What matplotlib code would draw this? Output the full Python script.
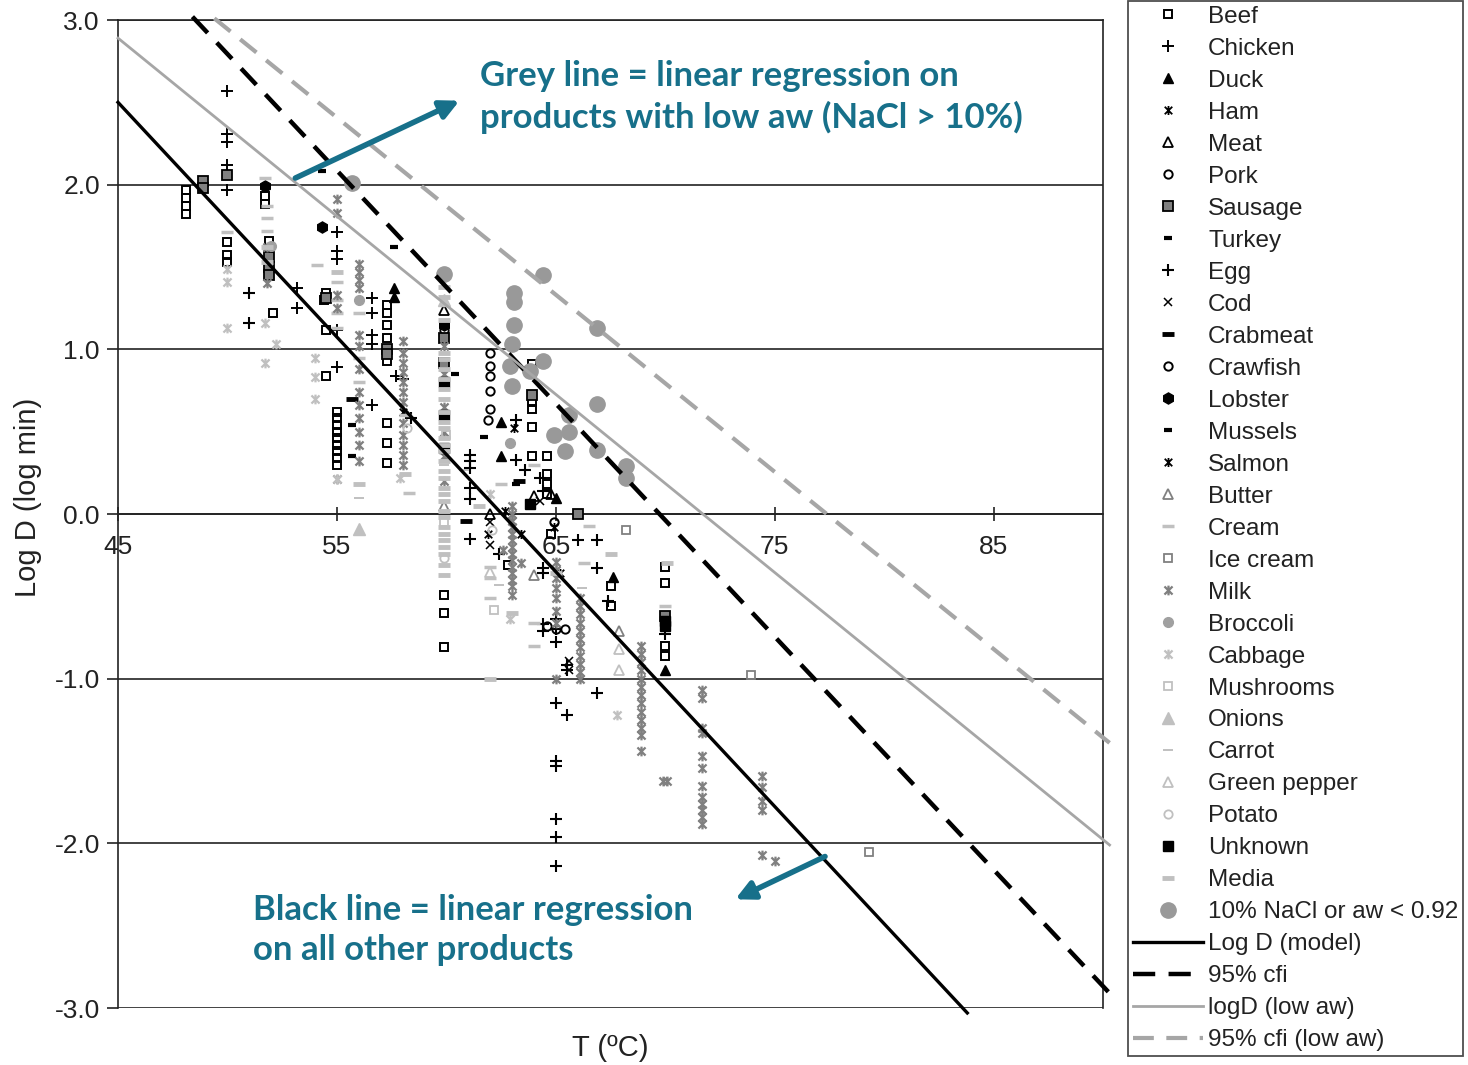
import matplotlib
matplotlib.use('Agg')
import matplotlib.pyplot as plt
from matplotlib.path import Path

plt.rcParams['font.family'] = ['Liberation Sans', 'DejaVu Sans']

# %% data: (T in degC, log D in log min)
beef = [(48.1, 1.97), (48.1, 1.92), (48.1, 1.87), (48.1, 1.82),
        (50.0, 1.65), (50.0, 1.57), (50.0, 1.53),
        (51.7, 1.93), (51.7, 1.88), (51.9, 1.66), (52.1, 1.22),
        (54.5, 1.34), (54.4, 1.30), (54.5, 1.12), (54.5, 0.84),
        (55.0, 0.62), (55.0, 0.58), (55.0, 0.54), (55.0, 0.50), (55.0, 0.46),
        (55.0, 0.42), (55.0, 0.38), (55.0, 0.34), (55.0, 0.30),
        (57.3, 1.27), (57.3, 1.22), (57.3, 1.15), (57.3, 1.07), (57.3, 0.93),
        (57.3, 0.55), (57.3, 0.43), (57.3, 0.31),
        (59.9, -0.49), (59.9, -0.60), (59.9, -0.81), (62.8, -0.31),
        (63.9, 0.91), (63.9, 0.68), (63.9, 0.64), (63.9, 0.53), (63.9, 0.35),
        (64.6, 0.35), (64.6, 0.24), (64.6, 0.18), (64.6, 0.12), (64.8, -0.12),
        (67.5, -0.44), (67.5, -0.56), (70.0, -0.32), (70.0, -0.42),
        (70.0, -0.80), (70.0, -0.86)]
chicken = [(50.0, 2.57), (50.0, 2.31), (50.0, 2.26), (50.0, 2.12), (50.0, 1.97),
           (53.2, 1.37), (53.2, 1.25), (55.0, 1.71), (55.0, 1.60), (55.0, 1.55),
           (55.0, 1.12), (55.0, 0.89), (56.6, 1.31), (56.6, 1.22), (56.6, 1.09),
           (56.6, 1.03), (56.6, 0.66), (57.7, 0.84)]
duck = [(57.6, 1.37), (57.6, 1.32), (62.5, 0.56), (62.5, 0.35), (65.0, 0.10),
        (67.6, -0.38), (70.0, -0.95)]
ham = [(58.0, 0.62), (63.1, 0.52), (64.9, -0.08), (61.9, -0.12)]
meat = [(59.9, 1.24), (62.0, 0.0), (64.0, 0.11), (64.8, 0.12)]
pork = [(62.0, 0.98), (62.0, 0.90), (62.0, 0.84), (62.0, 0.75), (62.0, 0.64),
        (65.0, -0.70), (65.4, -0.70), (59.9, 1.12)]
sausage = [(48.9, 2.02), (48.9, 1.98), (50.0, 2.06), (51.9, 1.56), (51.9, 1.50),
           (51.9, 1.45), (54.5, 1.31), (57.3, 1.00), (57.3, 0.97), (59.9, 1.07),
           (59.9, 0.92), (66.0, 0.0), (70.0, -0.62), (63.9, 0.72)]
turkey = [(54.3, 2.08), (57.6, 1.62), (61.7, 0.47), (63.2, 0.18)]
egg = [(51.0, 1.34), (51.0, 1.16), (58.0, 0.82), (58.4, 0.58),
       (61.1, 0.36), (61.1, 0.32), (61.1, 0.28), (61.1, 0.16), (61.1, 0.09),
       (61.1, -0.15), (62.4, -0.24), (63.2, 0.57), (63.2, 0.33), (63.6, 0.27),
       (64.3, 0.22), (64.4, 0.14), (64.4, -0.33), (64.4, -0.36), (64.4, -0.67),
       (64.4, -0.71), (65.0, -0.64), (65.0, -0.70), (65.0, -0.78), (65.5, -0.92),
       (65.5, -0.95), (65.0, -1.15), (65.5, -1.22), (65.0, -1.50), (65.0, -1.53),
       (65.0, -1.85), (65.0, -1.96), (65.0, -2.14), (66.9, -1.09), (66.0, -0.16),
       (66.9, -0.16), (66.9, -0.33), (67.4, -0.53), (70.0, -0.73)]
cod = [(62.0, -0.05), (62.0, -0.19), (65.6, -0.89), (65.6, -0.95), (64.3, 0.08)]
crabmeat = [(60.9, -0.04), (63.3, 0.20), (55.7, 0.70)]
crawfish = [(64.6, -0.68), (61.9, 0.57), (64.9, -0.05)]
lobster = [(51.7, 1.99), (54.3, 1.74), (59.9, 1.15)]
mussels = [(55.7, 0.54), (55.7, 0.35), (60.4, 0.85)]
salmon = [(62.7, 0.02), (65.2, -0.36), (63.4, -0.12)]
butter = [(64.0, -0.37), (67.9, -0.71), (59.9, 0.05)]
cream = [(50.0, 1.71), (51.7, 2.04), (51.8, 1.87), (51.8, 1.80), (51.8, 1.72),
         (54.1, 1.51), (55.0, 1.41), (55.0, 1.30), (55.0, 1.22), (55.0, 1.13),
         (56.0, 1.22), (56.0, 0.95), (56.0, 0.80), (58.1, 0.60), (58.3, 0.13),
         (62.0, -0.32), (62.0, -0.39), (62.0, -0.51), (64.0, -0.66), (64.0, -0.80),
         (70.0, -0.56), (66.3, -0.30), (66.5, -0.07), (64.0, 0.30), (62.5, 0.18)]
ice_cream = [(68.2, -0.10), (73.9, -0.98), (79.3, -2.05)]
milk = [(51.8, 1.62), (51.8, 1.40),
        (55.0, 1.91), (55.0, 1.83), (55.0, 1.33), (55.0, 1.25), (55.0, 0.21),
        (56.0, 1.52), (56.0, 1.47), (56.0, 1.42), (56.0, 1.37), (56.0, 1.09),
        (56.0, 1.02), (56.0, 0.88), (56.0, 0.74), (56.0, 0.66), (56.0, 0.58),
        (56.0, 0.50), (56.0, 0.42), (56.0, 0.32),
        (58.0, 1.05), (58.0, 0.98), (58.0, 0.92), (58.0, 0.86), (58.0, 0.80),
        (58.0, 0.74), (58.0, 0.68), (58.0, 0.55), (58.0, 0.48), (58.0, 0.42),
        (58.0, 0.36), (58.0, 0.30),
        (59.9, 1.02), (59.9, 0.85), (59.9, 0.65), (59.9, 0.50), (59.9, 0.35), (59.9, 0.20),
        (63.0, 0.05), (63.0, 0.00), (63.0, -0.04), (63.0, -0.08), (63.0, -0.12),
        (63.0, -0.16), (63.0, -0.20), (63.0, -0.24), (63.0, -0.28), (63.0, -0.32),
        (63.0, -0.36), (63.0, -0.40), (63.0, -0.44), (63.0, -0.49), (62.6, -0.22),
        (63.4, -0.30),
        (65.0, -0.29), (65.0, -0.34), (65.0, -0.39), (65.0, -0.45), (65.0, -0.51),
        (65.0, -0.59), (65.0, -0.66), (65.0, -1.00),
        (66.1, -0.51), (66.1, -0.56), (66.1, -0.61), (66.1, -0.66), (66.1, -0.71),
        (66.1, -0.76), (66.1, -0.81), (66.1, -0.86), (66.1, -0.91), (66.1, -0.96),
        (66.1, -1.00),
        (68.9, -0.80), (68.9, -0.85), (68.9, -0.90), (68.9, -0.95), (68.9, -1.00),
        (68.9, -1.05), (68.9, -1.10), (68.9, -1.15), (68.9, -1.20), (68.9, -1.25),
        (68.9, -1.30), (68.9, -1.34), (68.9, -1.44), (69.9, -1.62), (70.1, -1.62),
        (71.7, -1.07), (71.7, -1.12), (71.7, -1.30), (71.7, -1.33), (71.7, -1.47),
        (71.7, -1.54), (71.7, -1.65), (71.7, -1.72), (71.7, -1.76), (71.7, -1.80),
        (71.7, -1.84), (71.7, -1.88),
        (74.4, -1.59), (74.4, -1.66), (74.4, -1.74), (74.4, -1.80), (74.4, -2.07),
        (75.0, -2.11)]
broccoli = [(52.0, 1.63), (56.0, 1.30), (62.9, 0.43)]
cabbage = [(50.0, 1.49), (50.0, 1.41), (50.0, 1.13), (51.7, 1.16), (51.7, 0.92),
           (52.2, 1.03), (54.0, 0.95), (54.0, 0.83), (54.0, 0.70), (55.0, 0.21),
           (62.0, 0.12), (62.9, -0.64), (67.8, -1.22), (57.9, 0.22)]
mushrooms = [(59.9, -0.05), (60.0, 0.48), (62.2, -0.58)]
onions = [(56.0, -0.09), (59.9, 1.30)]
carrot = [(56.0, 0.10), (59.9, 0.30), (62.4, -0.43), (66.2, -0.45), (60.8, 0.27)]
green_pepper = [(67.9, -0.95), (67.9, -0.82), (62.0, -0.35)]
potato = [(59.9, -0.27), (58.2, 0.52), (62.1, -0.10)]
unknown = [(59.9, 0.80), (59.9, 0.60), (59.9, 0.40), (63.8, 0.06), (70.0, -0.68),
           (70.0, -0.65)]
media = [(59.9, 1.38), (59.9, 1.32), (59.9, 1.18), (59.9, 0.98), (59.9, 0.94),
         (59.9, 0.88), (59.9, 0.82), (59.9, 0.76), (59.9, 0.70), (59.9, 0.62),
         (59.9, 0.56), (59.9, 0.52), (59.9, 0.46), (59.9, 0.42), (59.9, 0.38),
         (59.9, 0.32), (59.9, 0.26), (59.9, 0.22), (59.9, 0.16), (59.9, 0.12),
         (59.9, 0.08), (59.9, 0.02), (59.9, -0.02), (59.9, -0.08), (59.9, -0.12),
         (59.9, -0.16), (59.9, -0.20), (59.9, -0.24), (59.9, -0.31), (59.9, -0.37),
         (51.8, 1.62), (51.8, 1.53), (55.0, 1.47), (56.0, 0.18), (58.1, 0.24),
         (62.0, -1.00), (63.0, -0.60), (65.0, -0.36), (67.5, -0.24), (70.1, -0.30),
         (61.5, 0.05)]
nacl = [(55.7, 2.01), (59.9, 1.46), (63.1, 1.34), (63.1, 1.29), (63.1, 1.15),
        (63.0, 1.03), (62.9, 0.90), (63.0, 0.78), (64.4, 1.45), (64.4, 0.93),
        (66.9, 1.13), (66.9, 0.67), (65.6, 0.60), (65.6, 0.50), (65.4, 0.38),
        (66.9, 0.39), (68.2, 0.29), (68.2, 0.22), (64.9, 0.48), (63.8, 0.87)]

# regression lines (end points)
model_T, model_logD = [45.0, 83.8], [2.50, -3.03]
cfi_T, cfi_logD = [48.4, 90.3], [3.02, -2.91]
lowaw_T, lowaw_logD = [45.0, 90.3], [2.89, -2.01]
lowaw_cfi_T, lowaw_cfi_logD = [49.4, 90.3], [3.01, -1.39]

x_ticks = [45, 55, 65, 75, 85]
y_ticks = [-3, -2, -1, 0, 1, 2, 3]

# %% marker styles
ast = Path([(-1, -1), (1, 1), (-1, 1), (1, -1), (0, -1.2), (0, 1.2)],
           [Path.MOVETO, Path.LINETO, Path.MOVETO, Path.LINETO, Path.MOVETO, Path.LINETO])
K, G, L = 'black', '#808080', '#c0c0c0'

series = [
    ('Beef', beef, dict(marker='s', ms=6, mfc='none', mec=K, mew=1.4)),
    ('Chicken', chicken, dict(marker='+', ms=8, mec=K, mew=1.4)),
    ('Duck', duck, dict(marker='^', ms=7, mfc=K, mec=K)),
    ('Ham', ham, dict(marker=ast, ms=6.5, mec=K, mew=1.3)),
    ('Meat', meat, dict(marker='^', ms=7, mfc='none', mec=K, mew=1.3)),
    ('Pork', pork, dict(marker='o', ms=6, mfc='none', mec=K, mew=1.4)),
    ('Sausage', sausage, dict(marker='s', ms=6.5, mfc=G, mec=K, mew=1.3)),
    ('Turkey', turkey, dict(marker='_', ms=6, mec=K, mew=3)),
    ('Egg', egg, dict(marker='+', ms=9, mec=K, mew=1.5)),
    ('Cod', cod, dict(marker='x', ms=6, mec=K, mew=1.1)),
    ('Crabmeat', crabmeat, dict(marker='_', ms=9, mec=K, mew=3.5)),
    ('Crawfish', crawfish, dict(marker='o', ms=6, mfc='none', mec=K, mew=1.4)),
    ('Lobster', lobster, dict(marker='h', ms=8, mfc=K, mec=K)),
    ('Mussels', mussels, dict(marker='_', ms=6, mec=K, mew=3)),
    ('Salmon', salmon, dict(marker=ast, ms=6.5, mec=K, mew=1.3)),
    ('Butter', butter, dict(marker='^', ms=7, mfc='none', mec=G, mew=1.3)),
    ('Cream', cream, dict(marker='_', ms=9, mec=L, mew=2.5)),
    ('Ice cream', ice_cream, dict(marker='s', ms=6, mfc='none', mec=G, mew=1.3)),
    ('Milk', milk, dict(marker=ast, ms=7, mec=G, mew=1.6)),
    ('Broccoli', broccoli, dict(marker='o', ms=7, mfc='#a0a0a0', mec='#a0a0a0')),
    ('Cabbage', cabbage, dict(marker=ast, ms=7, mec=L, mew=1.6)),
    ('Mushrooms', mushrooms, dict(marker='s', ms=6, mfc='none', mec=L, mew=1.3)),
    ('Onions', onions, dict(marker='^', ms=8, mfc=L, mec=L)),
    ('Carrot', carrot, dict(marker='_', ms=7, mec=L, mew=1.4)),
    ('Green pepper', green_pepper, dict(marker='^', ms=7, mfc='none', mec=L, mew=1.3)),
    ('Potato', potato, dict(marker='o', ms=6, mfc='none', mec=L, mew=1.3)),
    ('Unknown', unknown, dict(marker='s', ms=7, mfc=K, mec=K)),
    ('Media', media, dict(marker='_', ms=9, mec=L, mew=3.5)),
    ('10% NaCl or aw < 0.92', nacl, dict(marker='o', ms=11, mfc='#999999', mec='#999999')),
]

fig = plt.figure(figsize=(14.68, 10.65), dpi=100)
ax = fig.add_axes([118 / 1468, 1 - 1008 / 1065, (1103 - 118) / 1468, (1008 - 20) / 1065])

handles, labels = [], []
for name, pts, st in series:
    T = [p[0] for p in pts]
    D = [p[1] for p in pts]
    h, = ax.plot(T, D, ls='none', zorder=3, **st)
    handles.append(h)
    labels.append(name)

l1, = ax.plot(model_T, model_logD, color='black', lw=2.4, clip_on=False, zorder=4)
l2, = ax.plot(cfi_T, cfi_logD, color='black', lw=3.2, ls=(0, (5, 3)), clip_on=False, zorder=4)
l3, = ax.plot(lowaw_T, lowaw_logD, color='#a6a6a6', lw=2.0, clip_on=False, zorder=4)
l4, = ax.plot(lowaw_cfi_T, lowaw_cfi_logD, color='#a6a6a6', lw=3.0, ls=(0, (5, 3)), clip_on=False, zorder=4)
handles += [l1, l2, l3, l4]
labels += ['Log D (model)', '95% cfi', 'logD (low aw)', '95% cfi (low aw)']

ax.set_xlim(45, 90)
ax.set_ylim(-3, 3)
ax.set_yticks(y_ticks)
ax.set_yticklabels([f'{v:.1f}' for v in y_ticks])
ax.set_xticks(x_ticks)
ax.set_xticklabels([str(v) for v in x_ticks])
for y in y_ticks:
    ax.axhline(y, color='#222222', lw=1.2, zorder=1)

for s in ax.spines.values():
    s.set_color('#222222')
    s.set_linewidth(1.2)
ax.spines['bottom'].set_position(('data', 0))
ax.tick_params(axis='y', direction='out', length=8, width=1.2, labelsize=19, pad=5, colors='#222222')
ax.tick_params(axis='x', direction='inout', length=10, width=1.2, labelsize=19, pad=10, colors='#222222')

fig.text(28 / 1468, 1 - 497 / 1065, 'Log D (log min)', rotation=90, ha='center', va='center',
         fontsize=21, color='#222222')
fig.text(610 / 1468, 1 - 1048 / 1065, 'T (ºC)', ha='center', va='center', fontsize=21, color='#222222')

leg = fig.legend(handles, labels, loc='upper left', bbox_to_anchor=(1128 / 1468, 0.999),
                 bbox_transform=fig.transFigure, frameon=True, fancybox=False,
                 edgecolor='#222222', fontsize=17.5, labelspacing=0.41, handlelength=2.9,
                 handletextpad=0.2, borderpad=0.2, borderaxespad=0, numpoints=1)
leg.get_frame().set_linewidth(1.3)
for t in leg.get_texts():
    t.set_color('#222222')

# annotations
teal = '#17708a'
fig.text(480 / 1468, 1 - 97 / 1065, 'Grey line = linear regression on\nproducts with low aw (NaCl > 10%)',
         ha='left', va='center', fontsize=25, fontweight='bold', color=teal, family='Lato',
         linespacing=1.3)
fig.text(253 / 1468, 1 - 930 / 1065, 'Black line = linear regression\non all other products',
         ha='left', va='center', fontsize=25, fontweight='bold', color=teal, family='Lato',
         linespacing=1.3)
ax.annotate('', xy=(60.6, 2.51), xytext=(53.1, 2.04),
            arrowprops=dict(arrowstyle='-|>', color=teal, lw=4, mutation_scale=28, shrinkA=0, shrinkB=0),
            annotation_clip=False, zorder=6)
ax.annotate('', xy=(73.2, -2.34), xytext=(77.3, -2.08),
            arrowprops=dict(arrowstyle='-|>', color=teal, lw=4, mutation_scale=28, shrinkA=0, shrinkB=0),
            annotation_clip=False, zorder=6)

fig.savefig('out.png', dpi=100)
